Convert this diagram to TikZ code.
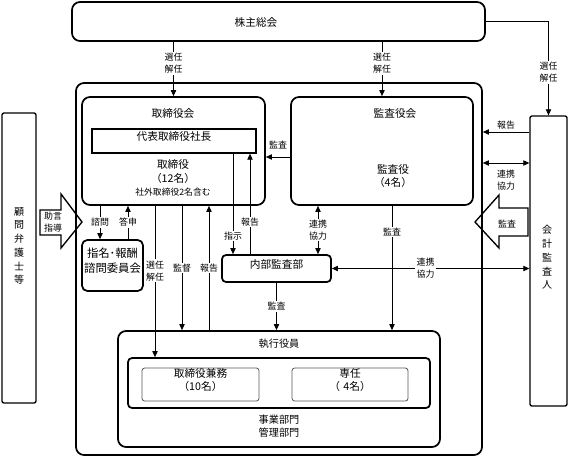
\documentclass[tikz,border=0pt]{standalone}
\usepackage{fontspec}
\setmainfont{Noto Sans CJK JP}
\usetikzlibrary{arrows.meta,fit}

\begin{document}
\begin{tikzpicture}[x=0.75pt,y=0.75pt,yscale=-1,xscale=1,
  frame/.style={draw,line width=1.3pt,rounded corners=6pt,inner sep=0pt},
  plainbox/.style={draw,line width=1pt,rounded corners=1.5pt,inner sep=0pt},
  thinbox/.style={draw,color=black!65,text=black,line width=0.6pt,rounded corners=2pt,inner sep=0pt},
  conn/.style={line width=0.6pt,-{Triangle[length=4.5pt,width=4pt]}},
  both/.style={line width=0.6pt,{Triangle[length=4.5pt,width=4pt]}-{Triangle[length=4.5pt,width=4pt]}},
  lbl/.style={fill=white,inner sep=1pt,align=center,font=\fontsize{6.7}{9}\selectfont},
  ttl/.style={inner sep=0.75pt,align=center,font=\fontsize{8}{9.75}\selectfont}]
\useasboundingbox (0,0) rectangle (575,458);

%Shape: outer frame
\node[frame,fit={(76,83) (482,455)}] (outer) {};
%Shape: 株主総会
\node[frame,fit={(72,2) (485,41)}] (gm) {};
% Text Node
\node[ttl] (gmt) at (256,22) {株主総会};

%Shape: 取締役会
\node[frame,fit={(82,97) (265,205)}] (board) {};
\node[ttl] (boardt) at (173,113) {取締役会};
\node[plainbox,rounded corners=0pt,fit={(93,130) (255,152)},ttl] (ceo) {代表取締役社長};
\node[ttl,font=\fontsize{8}{10}\selectfont] (dirs) at (173,178) {取締役\\（12名）\\\fontsize{6.6}{10}\selectfont 社外取締役2名含む};

%Shape: 監査役会
\node[frame,fit={(291,97) (473,205)}] (kansa) {};
\node[ttl] (kansat) at (395,113) {監査役会};
\node[ttl] (kansam) at (393,176.5) {監査役\\（4名）};

%Shape: 指名・報酬諮問委員会
\node[frame,rounded corners=4pt,fit={(82,240) (143,291)},align=center,font=\fontsize{8.5}{11}\selectfont] (nomcom) {指名･報酬\\諮問委員会};
%Shape: 内部監査部
\node[frame,rounded corners=3pt,fit={(223,256) (330,281)},ttl] (iad) {内部監査部};

%Shape: 執行役員
\node[frame,fit={(118,331) (440,447)}] (exec) {};
\node[ttl,font=\fontsize{7.6}{9.75}\selectfont] (exect) at (279,344) {執行役員};
\node[frame,rounded corners=3pt,fit={(128,358) (430,408)}] (inner) {};
\node[thinbox,fit={(143,369) (258,400)},ttl] (kenmu) {取締役兼務\\（10名）};
\node[thinbox,fit={(293,369) (407,400)},ttl] (senin) {専任\\（ 4名）};
\node[ttl,font=\fontsize{7.6}{9.75}\selectfont] (dept) at (279,426.5) {事業部門\\管理部門};

%Shape: 会計監査人
\node[plainbox,fit={(530,116) (567,406)}] (auditor) {};
\node[ttl,font=\fontsize{7.5}{10.3}\selectfont] (auditort) at (547,257.5) {会\\計\\監\\査\\人};
%Shape: 顧問弁護士等
\node[plainbox,fit={(2,113) (36,403)}] (lawyer) {};
\node[ttl,font=\fontsize{7.5}{10.3}\selectfont] (lawyert) at (19,246) {顧\\問\\弁\\護\\士\\等};

%Shape: Right Arrow
\draw[line width=1pt] (40,210) -- (61,210) -- (61,194) -- (82,222) -- (61,248) -- (61,235) -- (40,235) -- cycle;
\node[lbl,fill=none] (advice) at (53,222.5) {助言\\指導};
%Shape: Left Arrow
\draw[line width=1pt] (528,208) -- (499,208) -- (499,195) -- (475,222) -- (499,248) -- (499,236) -- (528,236) -- cycle;
\node[lbl,fill=none] (audit) at (507,224) {監査};

% helper positions
\coordinate (xq) at (100,0);
\coordinate (xa) at (128,0);
\coordinate (xs) at (155,0);
\coordinate (xk) at (182,0);
\coordinate (xh) at (209,0);
\coordinate (xi) at (233,0);
\coordinate (xr) at (250,0);
\coordinate (xc) at (318,0);
\coordinate (xm) at (392,0);
\coordinate (ya) at (0,157);
\coordinate (yr) at (0,132);
\coordinate (yc) at (0,163);

%Straight Lines
\draw[conn] (gm.south -| board) -- node[lbl,pos=0.4] {選任\\解任} (board.north);
\draw[conn] (gm.south -| kansa) -- node[lbl,pos=0.4] {選任\\解任} (kansa.north);
\draw[conn] (gm.east) -| node[lbl,pos=0.77] {選任\\解任} (auditor.north);
\draw[conn] (kansa.west |- ya) -- node[lbl,fill=none,above=5pt] {監査} (board.east |- ya);
\draw[conn] (auditor.west |- yr) -- node[lbl,fill=none,above=1pt] {報告} (outer.east |- yr);
\draw[both] (outer.east |- yc) -- node[lbl,fill=none,below=4pt] {連携\\協力} (auditor.west |- yc);

\draw[conn] (board.south -| xq) -- node[lbl] {諮問} (nomcom.north -| xq);
\draw[conn] (nomcom.north -| xa) -- node[lbl] {答申} (board.south -| xa);
\draw[conn] (board.south -| xs) -- node[lbl,pos=0.43] {選任\\解任} (inner.north -| xs);
\draw[conn] (board.south -| xk) -- node[lbl] {監督} (exec.north -| xk);
\draw[conn] (exec.north -| xh) -- node[lbl] {報告} (board.south -| xh);
\draw[conn] (ceo.south -| xi) -- node[lbl,pos=0.82] {指示} (iad.north -| xi);
\draw[conn] (iad.north -| xr) -- node[lbl,pos=0.32] {報告} (ceo.south -| xr);
\draw[both] (kansa.south -| xc) -- node[lbl] {連携\\協力} (iad.north -| xc);
\draw[conn] (kansa.south -| xm) -- node[lbl,pos=0.21] {監査} (exec.north -| xm);
\draw[conn] (iad.south) -- node[lbl] {監査} (exec.north -| iad);
\draw[both] (iad.east) -- node[lbl,pos=0.475] {連携\\協力} (auditor.west |- iad.east);

\end{tikzpicture}
\end{document}
